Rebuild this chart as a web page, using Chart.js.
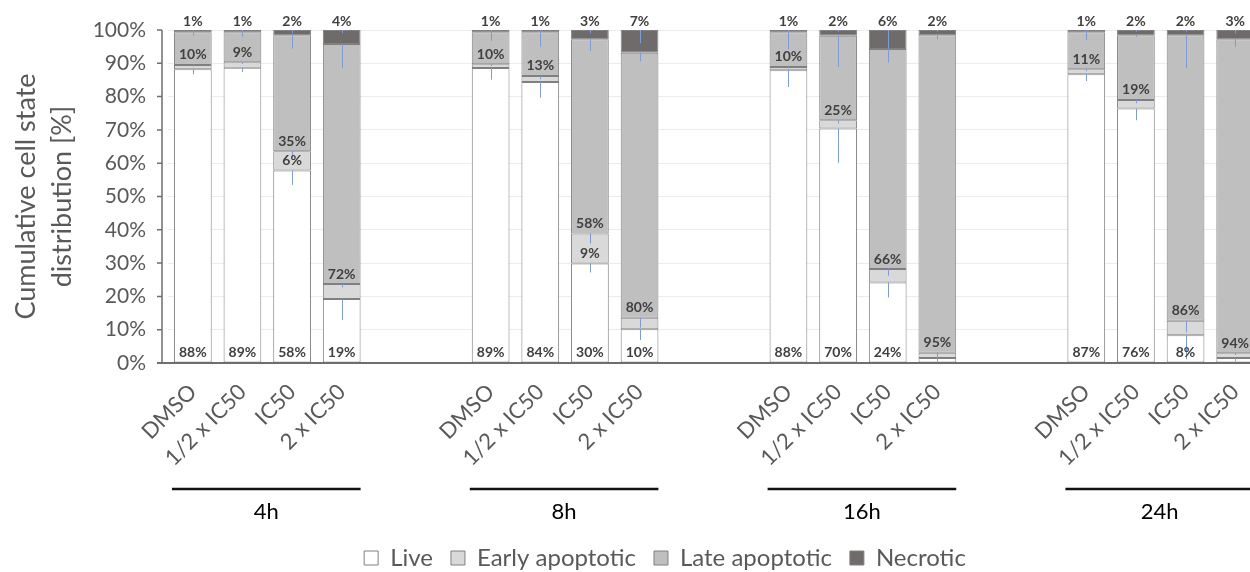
<!DOCTYPE html>
<html><head><meta charset="utf-8">
<script src="https://cdn.jsdelivr.net/npm/chart.js@4/dist/chart.umd.min.js"></script>
<style>html,body{margin:0;padding:0;overflow:hidden;background:#fff;width:1250px;height:572px}canvas{display:block}</style>
</head><body>
<canvas id="c" width="1262" height="572"></canvas>
<script>
// ---- data ----
const timepoints = ['4h', '8h', '16h', '24h'];
const treatments = ['DMSO', '1/2 x IC50', 'IC50', '2 x IC50'];
const seriesNames = ['Live', 'Early apoptotic', 'Late apoptotic', 'Necrotic'];
const yTicks = [0, 10, 20, 30, 40, 50, 60, 70, 80, 90, 100];
// values per bar: 4h (4 bars), 8h, 16h, 24h  [% of cells]
const live      = [88.2, 88.7, 57.8, 19.2,  88.6, 84.4, 29.9, 10.1,  87.9, 70.4, 24.2, 1.5,  86.7, 76.4, 8.3, 1.5];
const early     = [1.3, 1.6, 5.8, 4.5,      1.1, 1.8, 9.0, 3.5,      1.0, 2.5, 4.0, 1.6,     1.5, 2.6, 4.4, 1.4];
const late      = [9.8, 9.0, 34.8, 72.1,    9.6, 13.1, 58.3, 79.6,   10.4, 25.4, 66.1, 95.3, 11.1, 19.4, 85.7, 94.3];
const necrotic  = [0.7, 0.7, 1.6, 4.2,      0.7, 0.7, 2.8, 6.8,      0.7, 1.7, 5.7, 1.6,     0.7, 1.6, 1.6, 2.8];
// error (SD) per bar
const liveErr     = [1.5, 1.3, 4.3, 6.3,   3.5, 4.7, 2.7, 3.2,   5.0, 10.3, 4.5, 1.0,  2.0, 3.5, 7.2, 1.0];
const earlyErr    = [0.5, 0.5, 1.8, 1.0,   0.5, 1.0, 3.0, 3.0,   0.5, 1.0, 2.0, 1.5,   0.6, 1.0, 3.5, 0.5];
const lateErr     = [1.0, 1.3, 4.0, 7.2,   2.6, 4.3, 3.5, 2.5,   5.1, 9.4, 4.1, 1.2,   2.3, 0.5, 9.9, 2.2];
const necroticErr = [0.5, 0.5, 1.0, 1.0,   0.5, 0.5, 1.0, 4.0,   0.5, 0.5, 5.5, 0.5,   0.5, 0.5, 0.5, 1.0];

// ---- build category axis with 2 empty slots between time points ----
const GAP = 2;
const labels = [];
timepoints.forEach((t, g) => {
  treatments.forEach(tr => labels.push(tr));
  if (g < timepoints.length - 1) for (let k = 0; k < GAP; k++) labels.push('');
});
function expand(arr) {
  const out = [];
  timepoints.forEach((t, g) => {
    for (let j = 0; j < treatments.length; j++) out.push(arr[g * treatments.length + j]);
    if (g < timepoints.length - 1) for (let k = 0; k < GAP; k++) out.push(null);
  });
  return out;
}

const FONT = 'Lato, "Open Sans", sans-serif';
const GREY_TXT = '#595959';
const fills = ['#ffffff', '#d9d9d9', '#bfbfbf', '#706b6b'];
const values = [live, early, late, necrotic];
const errs = [liveErr, earlyErr, lateErr, necroticErr];

const datasets = seriesNames.map((n, d) => ({
  label: n,
  data: expand(values[d]),
  err: expand(errs[d]),
  backgroundColor: fills[d],
  borderColor: '#808080',
  borderWidth: 1,
  borderSkipped: false,
  barPercentage: 0.76,
  categoryPercentage: 1.0
}));

// ---- plugins ----
const axisPlugin = {
  id: 'axisLines',
  afterDatasetsDraw(chart) {
    const ctx = chart.ctx, a = chart.chartArea, y = chart.scales.y;
    const x0 = a.left - 6;
    ctx.save();
    ctx.strokeStyle = '#6e6e6e';
    ctx.lineWidth = 1.5;
    ctx.beginPath();
    ctx.moveTo(x0, a.top); ctx.lineTo(x0, a.bottom);
    yTicks.forEach(v => { const py = y.getPixelForValue(v); ctx.moveTo(x0 - 5, py); ctx.lineTo(x0, py); });
    ctx.stroke();
    ctx.lineWidth = 2;
    ctx.beginPath();
    ctx.moveTo(x0 - 5, a.bottom); ctx.lineTo(a.right, a.bottom);
    ctx.stroke();
    ctx.restore();
  }
};

const errPlugin = {
  id: 'errBars',
  afterDatasetsDraw(chart) {
    const ctx = chart.ctx, a = chart.chartArea, y = chart.scales.y;
    ctx.save();
    ctx.beginPath(); ctx.rect(a.left, a.top, a.right - a.left, a.bottom - a.top); ctx.clip();
    ctx.strokeStyle = '#7f9bd3';
    ctx.lineWidth = 1;
    chart.data.datasets.forEach((ds, d) => {
      const meta = chart.getDatasetMeta(d);
      meta.data.forEach((el, i) => {
        const v = ds.data[i];
        if (v == null) return;
        let cum = 0;
        for (let k = 0; k <= d; k++) cum += chart.data.datasets[k].data[i];
        const e = ds.err[i];
        const x = Math.round(el.x) + 0.5;
        ctx.beginPath();
        ctx.moveTo(x, y.getPixelForValue(cum));
        ctx.lineTo(x, y.getPixelForValue(cum - e));
        ctx.stroke();
      });
    });
    ctx.restore();
  }
};

const labelPlugin = {
  id: 'valLabels',
  afterDatasetsDraw(chart) {
    const ctx = chart.ctx;
    ctx.save();
    ctx.font = 'bold 14px ' + FONT;
    ctx.fillStyle = '#404040';
    ctx.textAlign = 'center';
    ctx.textBaseline = 'middle';
    chart.data.datasets.forEach((ds, d) => {
      const meta = chart.getDatasetMeta(d);
      meta.data.forEach((el, i) => {
        const v = ds.data[i];
        if (v == null) return;
        const txt = Math.round(v) + '%';
        if (d === 3) {
          ctx.fillText(txt, el.x, el.y - 9);
        } else if (d === 2 || v >= 5) {
          ctx.fillText(txt, el.x, el.base - 10);
        }
      });
    });
    ctx.restore();
  }
};

const groupPlugin = {
  id: 'groups',
  afterDraw(chart) {
    const ctx = chart.ctx, a = chart.chartArea;
    const meta = chart.getDatasetMeta(0);
    const step = treatments.length + GAP;
    ctx.save();
    timepoints.forEach((t, g) => {
      const e0 = meta.data[g * step];
      const e1 = meta.data[g * step + treatments.length - 1];
      const x1 = e0.x - e0.width / 2 - 2;
      const x2 = e1.x + e1.width / 2;
      const ly = a.bottom + 126;
      ctx.strokeStyle = '#111';
      ctx.lineWidth = 2.5;
      ctx.beginPath(); ctx.moveTo(x1, ly); ctx.lineTo(x2, ly); ctx.stroke();
      ctx.fillStyle = '#000';
      ctx.font = '22px ' + FONT;
      ctx.textAlign = 'center';
      ctx.textBaseline = 'middle';
      ctx.fillText(t, (x1 + x2) / 2, a.bottom + 149);
    });
    ctx.restore();
  }
};

const legendShift = {
  id: 'legendShift',
  afterLayout(chart) {
    const L = chart.legend;
    const dx = 35, dy = 8;
    L.left += dx; L.right += dx; L.top += dy; L.bottom += dy;
  }
};

new Chart(document.getElementById('c'), {
  type: 'bar',
  data: { labels, datasets },
  options: {
    responsive: false,
    animation: false,
    devicePixelRatio: 1,
    layout: { padding: { top: 30, left: 0, right: 2, bottom: 0 } },
    scales: {
      x: {
        stacked: true,
        grid: { display: false },
        border: { display: false },
        ticks: { autoSkip: false, minRotation: 45, maxRotation: 45, padding: 8,
                 font: { family: FONT, size: 22 }, color: GREY_TXT },
        afterFit(s) { s.height = 157; }
      },
      y: {
        stacked: true,
        min: 0, max: 100,
        afterBuildTicks(s) { s.ticks = yTicks.map(v => ({ value: v })); },
        ticks: { callback: v => v + '%', padding: 2, font: { family: FONT, size: 21 }, color: GREY_TXT },
        grid: { color: '#ececec', drawTicks: true, tickLength: 20, tickColor: 'rgba(0,0,0,0)' },
        border: { display: false },
        title: { display: true, text: ['Cumulative cell state', 'distribution [%]'],
                 font: { family: FONT, size: 27, lineHeight: 1.35 }, color: GREY_TXT,
                 padding: { top: 8, bottom: 0 } },
        afterFit(s) { s.width = 168; }
      }
    },
    plugins: {
      legend: { position: 'bottom',
        labels: { font: { family: FONT, size: 24 }, color: GREY_TXT, boxWidth: 14, boxHeight: 14, padding: 18 } },
      tooltip: { enabled: false }
    }
  },
  plugins: [axisPlugin, errPlugin, labelPlugin, groupPlugin, legendShift]
});
</script>
</body></html>
